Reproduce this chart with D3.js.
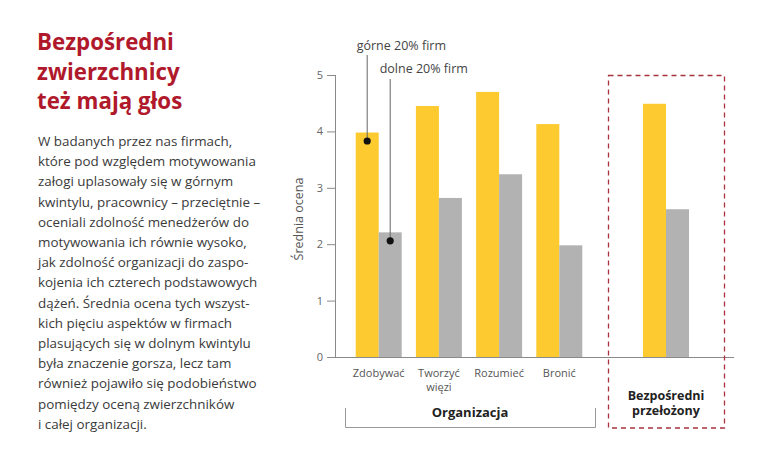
<!DOCTYPE html>
<html><head><meta charset="utf-8">
<script src="https://cdn.jsdelivr.net/npm/d3@7"></script>
<style>
html,body{margin:0;padding:0;background:#fff;}
svg{display:block;font-family:"Open Sans",sans-serif;}
</style></head>
<body>
<svg id="c" width="768" height="466"></svg>
<script>
// ---- data ----
const orgCategories = ["Zdobywać", "Tworzyć więzi", "Rozumieć", "Bronić"];
const orgLabels = [["Zdobywać"], ["Tworzyć", "więzi"], ["Rozumieć"], ["Bronić"]];
const mgrCategories = ["Bezpośredni przełożony"];
const seriesNames = ["górne 20% firm", "dolne 20% firm"];
const topValues = [3.98, 4.45, 4.70, 4.13];
const bottomValues = [2.21, 2.82, 3.24, 1.98];
const mgrTopValues = [4.49];
const mgrBottomValues = [2.62];
const yTicks = [0, 1, 2, 3, 4, 5];
const dotValues = [3.83, 2.06];   // annotation dots on first group
const titleLines = ["Bezpośredni", "zwierzchnicy", "też mają głos"];
const bodyLines = [
 "W badanych przez nas firmach,",
 "które pod względem motywowania",
 "załogi uplasowały się w górnym",
 "kwintylu, pracownicy – przeciętnie –",
 "oceniali zdolność menedżerów do",
 "motywowania ich równie wysoko,",
 "jak zdolność organizacji do zaspo-",
 "kojenia ich czterech podstawowych",
 "dążeń. Średnia ocena tych wszyst-",
 "kich pięciu aspektów w firmach",
 "plasujących się w dolnym kwintylu",
 "była znaczenie gorsza, lecz tam",
 "również pojawiło się podobieństwo",
 "pomiędzy oceną zwierzchników",
 "i całej organizacji."
];
const axisTitle = "Średnia ocena";
const groupOrg = "Organizacja";
const groupMgr = ["Bezpośredni", "przełożony"];

// ---- drawing ----
const svg = d3.select("#c");
const YEL = "#fdcb30", GRY = "#b2b2b2", RED = "#b0192b", BOX = "#a8323e";

// title
svg.append("g").selectAll("text").data(titleLines).join("text")
  .attr("x", 37).attr("y", (d, i) => 50 + i * 29.5)
  .attr("fill", RED).attr("font-size", 22.3).attr("font-weight", 700)
  .text(d => d);

// body
svg.append("g").selectAll("text").data(bodyLines).join("text")
  .attr("x", 38).attr("y", (d, i) => 146 + i * 20.2)
  .attr("fill", "#3a3a3a").attr("font-size", 13.4)
  .text(d => d);

const y = d3.scaleLinear().domain([0, 5]).range([357, 75]);
const xOrg = d3.scaleBand().domain(orgCategories).range([355.7, 582.3]).paddingInner(0.236).paddingOuter(0);
const xMgr = d3.scaleBand().domain(mgrCategories).range([608, 724]).paddingInner(0).paddingOuter(0.76);
const xsOrg = d3.scaleBand().domain(seriesNames).range([0, xOrg.bandwidth()]);
const xsMgr = d3.scaleBand().domain(seriesNames).range([0, xMgr.bandwidth()]);

// y axis
const yAxis = d3.axisLeft(y).tickValues(yTicks).tickSize(9).tickPadding(4).tickFormat(d3.format("d"));
const gy = svg.append("g").attr("transform", "translate(336,0)").call(yAxis);
gy.select(".domain").attr("stroke", "#8a8a8a").attr("d", `M-0.5,${y(5)}V${y(0)}`);
gy.selectAll(".tick line").attr("stroke", "#8a8a8a");
gy.selectAll(".tick text").attr("fill", "#666").attr("font-size", 11).attr("font-family", "Open Sans");

svg.append("text").attr("transform", `translate(303,${(y(0)+y(5))/2 + 3}) rotate(-90)`)
  .attr("text-anchor", "middle").attr("fill", "#555").attr("font-size", 12.5).text(axisTitle);

// bars
const orgData = orgCategories.map((c, i) => ({c, vals: [topValues[i], bottomValues[i]]}));
const mgrData = mgrCategories.map((c, i) => ({c, vals: [mgrTopValues[i], mgrBottomValues[i]]}));
function drawBars(data, xs, xsub) {
  const g = svg.append("g").selectAll("g").data(data).join("g")
    .attr("transform", d => `translate(${xs(d.c)},0)`);
  g.selectAll("rect").data(d => d.vals.map((v, j) => ({s: seriesNames[j], v}))).join("rect")
    .attr("x", d => xsub(d.s)).attr("width", xsub.bandwidth())
    .attr("y", d => y(d.v)).attr("height", d => y(0) - y(d.v))
    .attr("fill", d => d.s === seriesNames[0] ? YEL : GRY);
}
drawBars(orgData, xOrg, xsOrg);
drawBars(mgrData, xMgr, xsMgr);

// baseline
svg.append("line").attr("x1", 336).attr("x2", 734).attr("y1", y(0) + 0.5).attr("y2", y(0) + 0.5)
  .attr("stroke", "#8a8a8a");

// annotations
const annY = [50, 73];
const annLineTop = [55, 79];
seriesNames.forEach((s, i) => {
  const cx = xOrg(orgCategories[0]) + xsOrg(s) + xsOrg.bandwidth() / 2;
  svg.append("line").attr("x1", cx).attr("x2", cx).attr("y1", annLineTop[i]).attr("y2", y(dotValues[i]))
    .attr("stroke", "#666").attr("stroke-width", 1);
  svg.append("circle").attr("cx", cx).attr("cy", y(dotValues[i])).attr("r", 3.6).attr("fill", "#111");
  svg.append("text").attr("x", cx - 10.5).attr("y", annY[i]).attr("fill", "#444").attr("font-size", 12.5).text(s);
});

// x labels
orgData.forEach((d, i) => {
  const cx = xOrg(d.c) + xOrg.bandwidth() / 2;
  orgLabels[i].forEach((t, k) => {
    svg.append("text").attr("x", cx).attr("y", 377 + k * 13.5).attr("text-anchor", "middle")
      .attr("fill", "#555").attr("font-size", 11).text(t);
  });
});

// Organizacja bracket
svg.append("path").attr("d", "M345.5,408V427.5H595.5V408").attr("fill", "none").attr("stroke", "#999");
svg.append("text").attr("x", 470).attr("y", 416.5).attr("text-anchor", "middle")
  .attr("font-weight", 700).attr("font-size", 13).attr("fill", "#222").text(groupOrg);

// manager box
svg.append("rect").attr("x", 608.5).attr("y", 75.5).attr("width", 116).attr("height", 352.5)
  .attr("fill", "none").attr("stroke", BOX).attr("stroke-width", 1.3).attr("stroke-dasharray", "5,4");
const mcx = xMgr(mgrCategories[0]) + xMgr.bandwidth() / 2;
groupMgr.forEach((t, k) => {
  svg.append("text").attr("x", mcx).attr("y", 399.5 + k * 15.5).attr("text-anchor", "middle")
    .attr("font-weight", 700).attr("font-size", 12.5).attr("fill", "#222").text(t);
});
</script>
</body></html>
